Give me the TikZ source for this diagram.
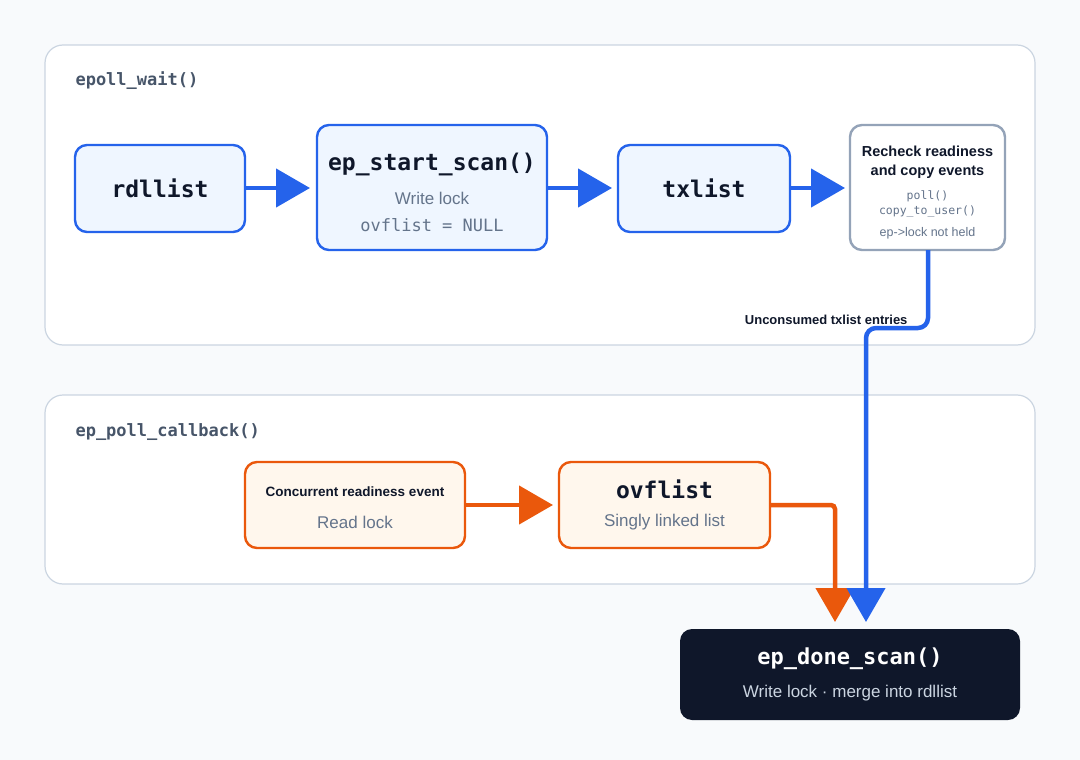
\documentclass[tikz,border=0pt]{standalone}
\usepackage{fontspec}
\setmainfont{Liberation Sans}
\newfontfamily\monof{DejaVu Sans Mono}
\usetikzlibrary{arrows.meta}
\definecolor{bg}{HTML}{F8FAFC}
\definecolor{panelb}{HTML}{CBD5E1}
\definecolor{slate}{HTML}{475569}
\definecolor{sub}{HTML}{64748B}
\definecolor{blu}{HTML}{2563EB}
\definecolor{blufill}{HTML}{EFF6FF}
\definecolor{org}{HTML}{EA580C}
\definecolor{orgfill}{HTML}{FFF7ED}
\definecolor{gry}{HTML}{94A3B8}
\definecolor{dark}{HTML}{0F172A}
\definecolor{txt}{HTML}{0F172A}
\begin{document}
\begin{tikzpicture}[x=1pt,y=-1pt,
 panel/.style={draw=panelb,line width=1.2pt,fill=white,rounded corners=18pt},
 box/.style={rounded corners=12pt,line width=2.4pt},
 bbox/.style={box,draw=blu,fill=blufill},
 obox/.style={box,draw=org,fill=orgfill},
 barr/.style={draw=blu,line width=4.5pt,-{Triangle[length=34pt,width=38pt]}},
 oarr/.style={draw=org,line width=4.5pt,-{Triangle[length=34pt,width=38pt]}},
 ptitle/.style={anchor=west,font=\monof\bfseries\fontsize{17}{20}\selectfont,text=slate},
 big/.style={font=\monof\bfseries\fontsize{23}{28}\selectfont,text=txt}]
\fill[bg] (0,0) rectangle (1080,760);
\path[panel] (45,45) rectangle (1035,345);
\path[panel] (45,395) rectangle (1035,584);
\node[ptitle] (t1) at (72,81) {epoll\_wait()};
\node[ptitle] (t2) at (72,432) {ep\_poll\_callback()};
% top nodes
\path[bbox] (75,145) rectangle (245,232);
\node[big] (rdl) at (160,188.5) {rdllist};
\coordinate (rdlE) at (245,188);
\path[bbox] (317,125) rectangle (547,250);
\node[big] (ess) at (432,164) {ep\_start\_scan()};
\node[font=\fontsize{17}{20}\selectfont,text=sub] (essa) at (432,198) {Write lock};
\node[font=\monof\fontsize{17}{20}\selectfont,text=sub] (essb) at (432,225) {ovflist = NULL};
\coordinate (essW) at (310,188); \coordinate (essE) at (547,188);
\path[bbox] (618,145) rectangle (790,232);
\node[big] (tx) at (704,188.5) {txlist};
\coordinate (txW) at (612,188); \coordinate (txE) at (790,188);
\path[box,draw=gry,fill=white] (850,125) rectangle (1005,250);
\node[font=\bfseries\fontsize{14.5}{19}\selectfont,text=txt,align=center] (rc) at (927.5,162) {Recheck readiness\\and copy events};
\node[font=\monof\fontsize{11.5}{14}\selectfont,text=sub,align=center] (rcb) at (927.5,204) {poll()\\[1pt]copy\_to\_user()};
\node[font=\fontsize{12.5}{15}\selectfont,text=sub] (rcc) at (927.5,233) {ep->lock not held};
\coordinate (rcW) at (845,188); \coordinate (rcS) at (928,250);
\draw[barr] (rdlE) -- (essW);
\draw[barr] (essE) -- (txW);
\draw[barr] (txE) -- (rcW);
% bottom nodes
\path[obox] (245,462) rectangle (465,548);
\node[font=\bfseries\fontsize{13.5}{16}\selectfont,text=txt] (ce) at (355,492) {Concurrent readiness event};
\node[font=\fontsize{17}{20}\selectfont,text=sub] (cea) at (355,522) {Read lock};
\coordinate (ceE) at (465,505);
\path[obox] (559,462) rectangle (770,548);
\node[big] (ov) at (664.5,489) {ovflist};
\node[font=\fontsize{17}{20}\selectfont,text=sub] (ova) at (664.5,522) {Singly linked list};
\coordinate (ovW) at (553,505); \coordinate (ovE) at (770,505);
\draw[oarr] (ceE) -- (ovW);
% done
\path[box,fill=dark] (680,629) rectangle (1020,720);
\node[font=\monof\bfseries\fontsize{22}{26}\selectfont,text=white] (ds) at (850,659) {ep\_done\_scan()};
\node[font=\fontsize{17}{20}\selectfont,text=panelb] (dsa) at (850,693) {Write lock · merge into rdllist};
\coordinate (dA) at (835,622); \coordinate (dB) at (866,622);
\draw[oarr,rounded corners=4pt] (ovE) -- (835,505) -- (dA);
\draw[barr,rounded corners=10pt] (rcS) -- (928,328) -- (866,328) -- (dB);
\node[font=\bfseries\fontsize{13}{15}\selectfont,text=txt,anchor=east] (lbl) at (911,320) {Unconsumed txlist entries};
\end{tikzpicture}
\end{document}
